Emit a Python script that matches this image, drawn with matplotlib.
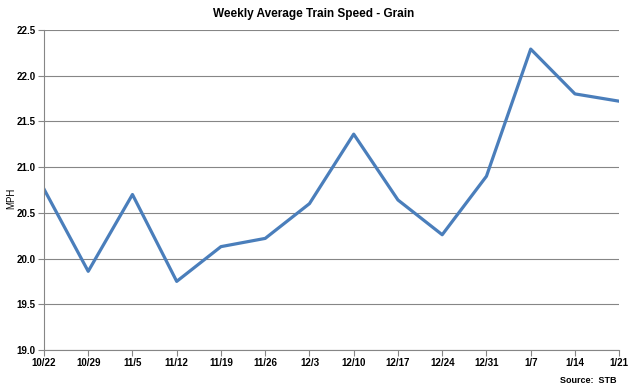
import matplotlib.pyplot as plt

weeks = ['10/22', '10/29', '11/5', '11/12', '11/19', '11/26', '12/3',
         '12/10', '12/17', '12/24', '12/31', '1/7', '1/14', '1/21']
mph = [20.76, 19.86, 20.70, 19.75, 20.13, 20.22, 20.60,
       21.36, 20.64, 20.26, 20.90, 22.29, 21.80, 21.72]

plt.rcParams['font.family'] = ['Liberation Sans', 'DejaVu Sans']

fig = plt.figure(figsize=(6.28, 3.88), dpi=100)
ax = fig.add_axes([0.070, 0.098, 0.916, 0.825])

x = range(len(weeks))
ax.plot(x, mph, color='#4A7EBB', linewidth=2.3)

ax.set_xlim(0, len(weeks) - 1)
ax.set_ylim(19.0, 22.5)
ax.set_yticks([19.0 + 0.5 * i for i in range(8)])
ax.set_yticklabels(['%.1f' % (19.0 + 0.5 * i) for i in range(8)],
                   fontsize=7, fontweight='bold')
ax.set_xticks(list(x))
ax.set_xticklabels(weeks, fontsize=7, fontweight='bold')
ax.yaxis.grid(True, color='#868686', linewidth=0.8)
ax.set_axisbelow(True)

for s in ['top', 'right']:
    ax.spines[s].set_visible(False)
for s in ['left', 'bottom']:
    ax.spines[s].set_color('#868686')
    ax.spines[s].set_linewidth(0.8)
ax.tick_params(axis='both', color='#868686', length=4, pad=2)

# y label placed by hand so it is not clipped
fig.text(0.018, 0.49, 'MPH', rotation=90, ha='center', va='center', fontsize=7)
fig.text(0.5, 0.955, 'Weekly Average Train Speed - Grain', ha='center',
         fontsize=8.5, fontweight='bold')
fig.text(0.982, 0.012, 'Source:  STB', ha='right', fontsize=6.5, fontweight='bold')

fig.savefig('out.png', dpi=100)
